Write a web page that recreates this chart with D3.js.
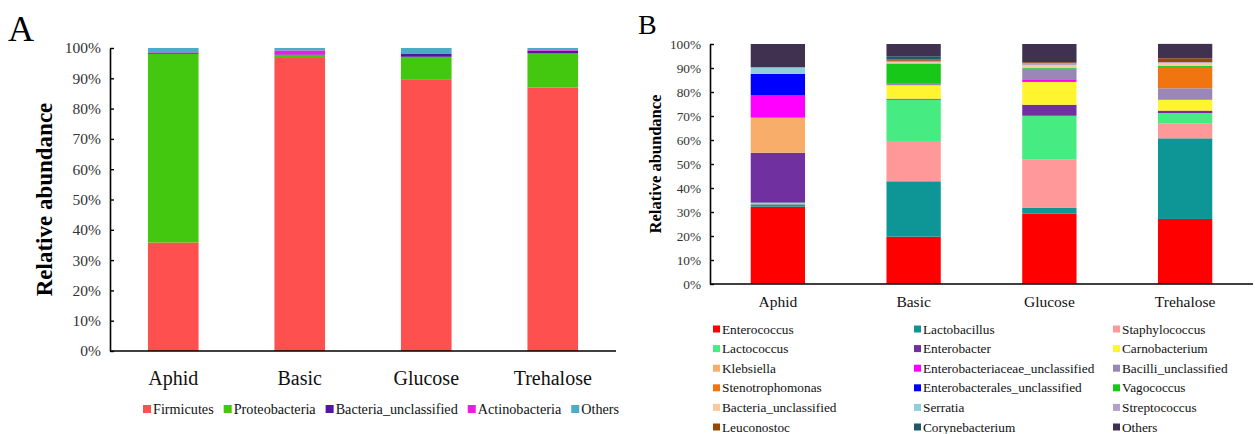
<!DOCTYPE html>
<html>
<head>
<meta charset="utf-8">
<script src="https://cdn.jsdelivr.net/npm/d3@7"></script>
<style>
  html, body { margin: 0; padding: 0; background: #fff; }
  svg { display: block; font-family: "Liberation Serif", "Times New Roman", serif; }
</style>
</head>
<body>
<svg id="chart" width="1255" height="434"></svg>
<script>
// Sample groups
const samples = ["Aphid", "Basic", "Glucose", "Trehalose"];
const yTicks = [0, 10, 20, 30, 40, 50, 60, 70, 80, 90, 100];

// Panel A: phylum-level relative abundance (%), one array per phylum, ordered by sample
const phyla = ["Firmicutes", "Proteobacteria", "Bacteria_unclassified", "Actinobacteria", "Others"];
const firmicutes = [35.8, 97.0, 89.7, 86.9];
const proteobacteria = [62.3, 0.7, 7.4, 11.3];
const bacteriaUnclassifiedPhylum = [0.4, 0.2, 1.0, 0.9];
const actinobacteria = [0.1, 1.3, 0.2, 0.2];
const othersPhylum = [1.4, 0.8, 1.7, 0.7];
const phylumColors = ["#FF5050", "#44C80F", "#52179E", "#F01CDC", "#4BACC6"];

// Panel B: genus-level relative abundance (%), stacked bottom to top in legend order
const genera = [
  "Enterococcus", "Lactobacillus", "Staphylococcus",
  "Lactococcus", "Enterobacter", "Carnobacterium",
  "Klebsiella", "Enterobacteriaceae_unclassified", "Bacilli_unclassified",
  "Stenotrophomonas", "Enterobacterales_unclassified", "Vagococcus",
  "Bacteria_unclassified", "Serratia", "Streptococcus",
  "Leuconostoc", "Corynebacterium", "Others"
];
const enterococcus = [32.2, 19.7, 29.4, 27.1];
const lactobacillus = [1.0, 23.1, 2.3, 33.6];
const staphylococcus = [0.3, 16.8, 20.3, 6.1];
const lactococcus = [0.4, 17.2, 18.1, 4.45];
const enterobacter = [20.8, 0.4, 4.6, 1.0];
const carnobacterium = [0.0, 5.6, 9.5, 4.5];
const klebsiella = [14.6, 0.0, 0.0, 0.0];
const enterobacteriaceaeUnclassified = [9.45, 0.0, 0.8, 0.0];
const bacilliUnclassified = [0.0, 0.6, 4.7, 4.8];
const stenotrophomonas = [0.0, 0.0, 0.0, 8.9];
const enterobacteralesUnclassified = [8.85, 0.0, 0.0, 0.0];
const vagococcus = [0.0, 8.5, 0.3, 0.5];
const bacteriaUnclassifiedGenus = [0.0, 0.5, 1.2, 1.2];
const serratia = [2.7, 0.0, 0.0, 0.0];
const streptococcus = [0.0, 0.6, 0.8, 0.3];
const leuconostoc = [0.0, 0.5, 0.4, 1.6];
const corynebacterium = [0.0, 1.4, 0.0, 0.0];
const othersGenus = [9.7, 5.1, 7.6, 6.0];
const genusColors = [
  "#FF0000", "#0E9696", "#FF9999",
  "#46EB82", "#7030A0", "#FFF52E",
  "#F8AD6A", "#FF00FF", "#9B86B8",
  "#F07410", "#0000FF", "#18C818",
  "#F8C8A0", "#92CDDC", "#B4A0C8",
  "#974806", "#215968", "#403151"
];

const phylumSeries = [firmicutes, proteobacteria, bacteriaUnclassifiedPhylum, actinobacteria, othersPhylum];
const genusSeries = [
  enterococcus, lactobacillus, staphylococcus, lactococcus, enterobacter, carnobacterium,
  klebsiella, enterobacteriaceaeUnclassified, bacilliUnclassified, stenotrophomonas,
  enterobacteralesUnclassified, vagococcus, bacteriaUnclassifiedGenus, serratia,
  streptococcus, leuconostoc, corynebacterium, othersGenus
];

// Build one row per sample for d3.stack
function toRows(names, series) {
  return samples.map((s, i) => {
    const row = { sample: s };
    names.forEach((n, k) => { row[n] = series[k][i]; });
    return row;
  });
}

const svg = d3.select("#chart");

function drawPanel(cfg) {
  const g = svg.append("g");
  const x = d3.scaleBand().domain(samples).range([cfg.x0, cfg.x1])
    .paddingInner(0.6).paddingOuter(0.3);
  const y = d3.scaleLinear().domain([0, 100]).range([cfg.yBottom, cfg.yTop]);

  const rows = toRows(cfg.names, cfg.series);
  const stacked = d3.stack().keys(cfg.names)(rows);

  // stacked bars
  g.selectAll("g.layer").data(stacked).join("g")
    .attr("class", "layer")
    .attr("fill", (d, i) => cfg.colors[i])
    .selectAll("rect").data(d => d).join("rect")
    .attr("x", d => x(d.data.sample))
    .attr("width", x.bandwidth())
    .attr("y", d => y(d[1]))
    .attr("height", d => Math.max(0, y(d[0]) - y(d[1])));

  // y axis
  const yAxis = d3.axisLeft(y).tickValues(yTicks).tickFormat(d => d + "%")
    .tickSizeInner(-cfg.tick).tickSizeOuter(0).tickPadding(cfg.tickPad);
  const ya = g.append("g").attr("transform", `translate(${cfg.x0},0)`).call(yAxis);
  ya.attr("font-family", null);
  ya.select(".domain").attr("stroke", "#000").attr("stroke-width", 1.6);
  ya.selectAll(".tick line").attr("stroke", "#000").attr("stroke-width", 1.4);
  ya.selectAll(".tick text")
    .attr("font-size", cfg.tickFont)
    .attr("fill", "#333");

  // x axis
  const xAxis = d3.axisBottom(x).tickSize(0).tickPadding(cfg.xPad);
  const xa = g.append("g").attr("transform", `translate(0,${cfg.yBottom})`).call(xAxis);
  xa.attr("font-family", null);
  xa.select(".domain").attr("stroke", "#000").attr("stroke-width", 1.6)
    .attr("d", `M${cfg.x0},0H${cfg.x1}`);
  xa.selectAll(".tick text")
    .attr("font-size", cfg.xFont)
    .attr("fill", "#111");

  // y title
  g.append("text")
    .attr("transform", `translate(${cfg.titleX},${(cfg.yTop + cfg.yBottom) / 2}) rotate(-90)`)
    .attr("text-anchor", "middle")
    .attr("dominant-baseline", "central")
    .attr("font-weight", "bold")
    .attr("font-size", cfg.titleFont)
    .attr("fill", "#000")
    .text("Relative abundance");

  // panel letter
  g.append("text")
    .attr("x", cfg.letterX).attr("y", cfg.letterY)
    .attr("font-size", cfg.letterFont)
    .attr("fill", "#000")
    .text(cfg.letter);
  return g;
}

// Panel A
const gA = drawPanel({
  names: phyla, series: phylumSeries, colors: phylumColors,
  x0: 110, x1: 616, yTop: 48, yBottom: 351,
  tick: 4, tickPad: 9, tickFont: 15.5, xPad: 20, xFont: 20,
  titleX: 44, titleFont: 23,
  letter: "A", letterX: 8, letterY: 41, letterFont: 36
});

// Panel A legend: single row
const legA = gA.append("g").attr("transform", "translate(0,409)");
let cx = 143;
phyla.forEach((name, i) => {
  const item = legA.append("g").attr("transform", `translate(${cx},0)`);
  item.append("rect").attr("x", 0).attr("y", -4).attr("width", 8).attr("height", 8)
    .attr("fill", phylumColors[i]);
  const t = item.append("text").attr("x", 10).attr("y", 0)
    .attr("dominant-baseline", "central")
    .attr("font-size", 14.2).attr("fill", "#111").text(name);
  cx += 10 + t.node().getComputedTextLength() + 10;
});

// Panel B
const gB = drawPanel({
  names: genera, series: genusSeries, colors: genusColors,
  x0: 710, x1: 1253, yTop: 44, yBottom: 284,
  tick: 4, tickPad: 9, tickFont: 13.3, xPad: 12, xFont: 15.5,
  titleX: 655, titleFont: 16.5,
  letter: "B", letterX: 638, letterY: 34, letterFont: 28
});

// Panel B legend: three columns, filled row by row
const colX = [713, 914, 1113];
const legB = gB.append("g");
genera.forEach((name, i) => {
  const col = i % 3, row = Math.floor(i / 3);
  const item = legB.append("g")
    .attr("transform", `translate(${colX[col]},${329 + row * 19.6})`);
  item.append("rect").attr("x", 0).attr("y", -3.5).attr("width", 7).attr("height", 7)
    .attr("fill", genusColors[i]);
  item.append("text").attr("x", 9).attr("y", 0)
    .attr("dominant-baseline", "central")
    .attr("font-size", 13.3).attr("fill", "#111").text(name);
});
</script>
</body>
</html>
